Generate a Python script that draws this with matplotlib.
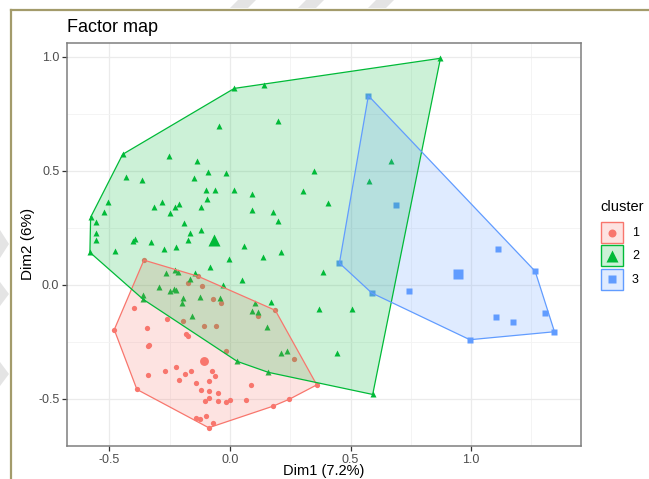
import numpy as np
import matplotlib
matplotlib.use("Agg")
import matplotlib.pyplot as plt
from matplotlib.patches import Polygon, Rectangle
from matplotlib.lines import Line2D

plt.rcParams['font.family'] = ['Liberation Sans', 'DejaVu Sans']

# ---------------- data ----------------
title = "Factor map"
x_label = "Dim1 (7.2%)"
y_label = "Dim2 (6%)"
legend_title = "cluster"
cluster_labels = ["1", "2", "3"]
cluster_colors = ["#F8766D", "#00BA38", "#619CFF"]
cluster_markers = ["o", "^", "s"]

x_ticks = [-0.5, 0.0, 0.5, 1.0]
y_ticks = [-0.5, 0.0, 0.5, 1.0]
x_tick_labels = ["-0.5", "0.0", "0.5", "1.0"]
y_tick_labels = ["-0.5", "0.0", "0.5", "1.0"]

c1_x = [-0.357, -0.132, -0.173, -0.117, -0.072, -0.037, 0.117, -0.400, -0.263, -0.195,
        -0.109, -0.059, -0.480, -0.343, -0.181, -0.174, -0.341, -0.336, -0.017, -0.224,
        -0.075, -0.268, -0.161, -0.188, -0.062, -0.339, -0.212, -0.088, -0.140, 0.087,
        -0.386, -0.119, -0.088, -0.051, -0.104, -0.088, -0.050, -0.015, 0.001, 0.065,
        0.246, 0.177, 0.360, -0.140, -0.126, -0.101, -0.071, -0.088, 0.188, 0.264]
c1_y = [0.108, 0.037, 0.006, -0.007, -0.064, -0.082, -0.135, -0.104, -0.149, -0.161,
        -0.180, -0.180, -0.197, -0.191, -0.218, -0.224, -0.268, -0.263, -0.291, -0.361,
        -0.376, -0.380, -0.380, -0.393, -0.400, -0.397, -0.419, -0.423, -0.432, -0.441,
        -0.459, -0.463, -0.464, -0.476, -0.509, -0.496, -0.509, -0.516, -0.504, -0.504,
        -0.502, -0.533, -0.439, -0.583, -0.588, -0.575, -0.605, -0.627, -0.112, -0.326]

c2_x = [0.018, 0.142, -0.445, -0.578, -0.581, -0.047, 0.199, -0.253, -0.138, -0.433,
        -0.364, -0.151, -0.093, -0.015, 0.350, 0.576, -0.098, -0.063, 0.017, 0.093,
        0.302, 0.405, -0.505, -0.522, -0.280, -0.317, -0.230, -0.210, -0.095, -0.122,
        -0.250, 0.092, 0.177, 0.200, -0.557, -0.190, -0.556, -0.556, -0.167, -0.122,
        -0.401, -0.393, -0.326, -0.173, 0.057, -0.478, -0.274, -0.223, 0.135, 0.212,
        -0.006, 0.873, 0.669, 0.507, 0.443, 0.386, 0.169, 0.105, 0.090, 0.117,
        0.371, 0.152, 0.212, 0.237, 0.159, 0.592, -0.083, -0.228, -0.217, -0.266,
        -0.145, 0.050, -0.167, -0.028, -0.296, -0.248, -0.234, -0.224, -0.362, -0.360,
        -0.194, -0.124, -0.040, -0.200, -0.159, 0.030]
c2_y = [0.861, 0.876, 0.572, 0.296, 0.142, 0.697, 0.719, 0.564, 0.543, 0.471,
        0.459, 0.467, 0.494, 0.489, 0.499, 0.455, 0.414, 0.414, 0.414, 0.396,
        0.410, 0.357, 0.361, 0.320, 0.365, 0.339, 0.343, 0.356, 0.375, 0.339,
        0.316, 0.326, 0.320, 0.281, 0.275, 0.272, 0.229, 0.196, 0.225, 0.241,
        0.190, 0.199, 0.187, 0.195, 0.171, 0.147, 0.157, 0.166, 0.122, 0.143,
        0.114, 0.993, 0.543, -0.105, -0.301, 0.054, -0.077, -0.079, -0.114, -0.118,
        -0.105, -0.186, -0.300, -0.291, -0.384, -0.481, 0.079, 0.064, 0.056, 0.053,
        0.050, 0.019, 0.024, -0.001, -0.011, -0.026, -0.020, -0.025, -0.044, -0.064,
        -0.057, -0.055, -0.057, -0.082, -0.136, -0.336]

c3_x = [0.574, 0.454, 0.588, 0.689, 0.744, 1.111, 1.266, 1.102, 1.173, 1.308, 1.346, 0.995]
c3_y = [0.829, 0.095, -0.036, 0.348, -0.029, 0.158, 0.059, -0.140, -0.162, -0.125, -0.206, -0.241]

clusters_x = [c1_x, c2_x, c3_x]
clusters_y = [c1_y, c2_y, c3_y]


def convex_hull(xs, ys):
    pts = sorted(set(zip(xs, ys)))

    def cross(o, a, b):
        return (a[0] - o[0]) * (b[1] - o[1]) - (a[1] - o[1]) * (b[0] - o[0])

    lower = []
    for p in pts:
        while len(lower) >= 2 and cross(lower[-2], lower[-1], p) <= 0:
            lower.pop()
        lower.append(p)
    upper = []
    for p in reversed(pts):
        while len(upper) >= 2 and cross(upper[-2], upper[-1], p) <= 0:
            upper.pop()
        upper.append(p)
    return lower[:-1] + upper[:-1]


# ---------------- figure ----------------
W, H = 649, 479
fig = plt.figure(figsize=(W / 100, H / 100), dpi=100)
fig.patch.set_facecolor("white")


def fx(px):
    return px / W


def fy(py):
    return 1 - py / H


ax = fig.add_axes([fx(67), fy(446), (581 - 67) / W, (446 - 43) / H])
ax.set_xlim(-0.676, 1.456)
ax.set_ylim(-0.707, 1.060)

reg_sizes = [3.8, 4.6, 3.7]
ctr_sizes = [6.4, 9.0, 6.8]

# points (drawn first, hull polygons on top as in ggplot)
for xs, ys, col, mk, ms, cms in zip(clusters_x, clusters_y, cluster_colors,
                                    cluster_markers, reg_sizes, ctr_sizes):
    ax.plot(xs, ys, linestyle="none", marker=mk, ms=ms, mfc=col, mec="none", zorder=2)
    ax.plot([np.mean(xs)], [np.mean(ys)], linestyle="none", marker=mk, ms=cms,
            mfc=col, mec="none", zorder=2)

for xs, ys, col in zip(clusters_x, clusters_y, cluster_colors):
    hull = convex_hull(xs, ys)
    ax.add_patch(Polygon(hull, closed=True, facecolor=col, alpha=0.2,
                         edgecolor="none", zorder=3))
    ax.add_patch(Polygon(hull, closed=True, facecolor="none", edgecolor=col,
                         lw=0.9, zorder=3.1))

ax.set_xticks(x_ticks)
ax.set_xticklabels(x_tick_labels)
ax.set_yticks(y_ticks)
ax.set_yticklabels(y_tick_labels)
ax.set_xticks([-0.25, 0.25, 0.75, 1.25], minor=True)
ax.set_yticks([-0.25, 0.25, 0.75], minor=True)
ax.set_axisbelow(True)
ax.grid(which="major", color="#ebebeb", lw=0.9)
ax.grid(which="minor", color="#f3f3f3", lw=0.6)
ax.tick_params(which="major", length=3.5, width=0.9, color="#333333",
               labelsize=9, labelcolor="#4d4d4d", pad=2)
ax.tick_params(which="minor", length=0)
for s in ax.spines.values():
    s.set_color("#7f7f7f")
    s.set_linewidth(1.1)

fig.text(fx(67), fy(32), title, fontsize=13, ha="left", va="baseline", color="black")
fig.text(fx(324), fy(478.5), x_label, fontsize=10.5, ha="center", va="bottom", color="black")
fig.text(fx(28), fy(244), y_label, fontsize=11, ha="center", va="center",
         rotation=90, color="black")

# ---------------- legend ----------------
lax = fig.add_axes([fx(595), fy(300), (649 - 595) / W, (300 - 195) / H])
lax.set_xlim(595, 649)
lax.set_ylim(300, 195)
lax.axis("off")
lax.text(600, 207, legend_title, fontsize=10.5, ha="left", va="center")
for i, (lab, col, mk, cms) in enumerate(zip(cluster_labels, cluster_colors,
                                            cluster_markers, ctr_sizes)):
    top = 222 + i * 23.3
    lax.add_patch(Rectangle((601, top), 22, 21, facecolor=col, alpha=0.2,
                            edgecolor="none"))
    lax.add_patch(Rectangle((601, top), 22, 21, facecolor="none", edgecolor=col, lw=1.0))
    lax.plot([612], [top + 10.5], marker=mk, ms=cms * 0.9, mfc=col, mec="none",
             linestyle="none")
    lax.text(632, top + 11, lab, fontsize=9, ha="left", va="center")

# ---------------- screenshot frame & watermark ----------------
frame_col = "#a39b6b"
fig.add_artist(Line2D([fx(11), fx(11)], [0, fy(9.5)], transform=fig.transFigure,
                      color=frame_col, lw=1.6))
fig.add_artist(Line2D([fx(11), 1], [fy(9.5), fy(9.5)], transform=fig.transFigure,
                      color=frame_col, lw=1.6))
wm_col = "#e4e4e4"
for x0 in [230, 298, 368]:
    pts = [(x0 + 8, 0), (x0 + 26, 0), (x0 + 18, 8), (x0, 8)]
    fig.add_artist(Polygon([(fx(a), fy(b)) for a, b in pts], closed=True,
                           transform=fig.transFigure, facecolor=wm_col, edgecolor="none"))
for y0, h in [(230, 28), (282, 24), (362, 24)]:
    pts = [(0, y0), (9, y0 + h / 2), (0, y0 + h)]
    fig.add_artist(Polygon([(fx(a), fy(b)) for a, b in pts], closed=True,
                           transform=fig.transFigure, facecolor=wm_col, edgecolor="none"))

fig.savefig("out.png", dpi=100)
